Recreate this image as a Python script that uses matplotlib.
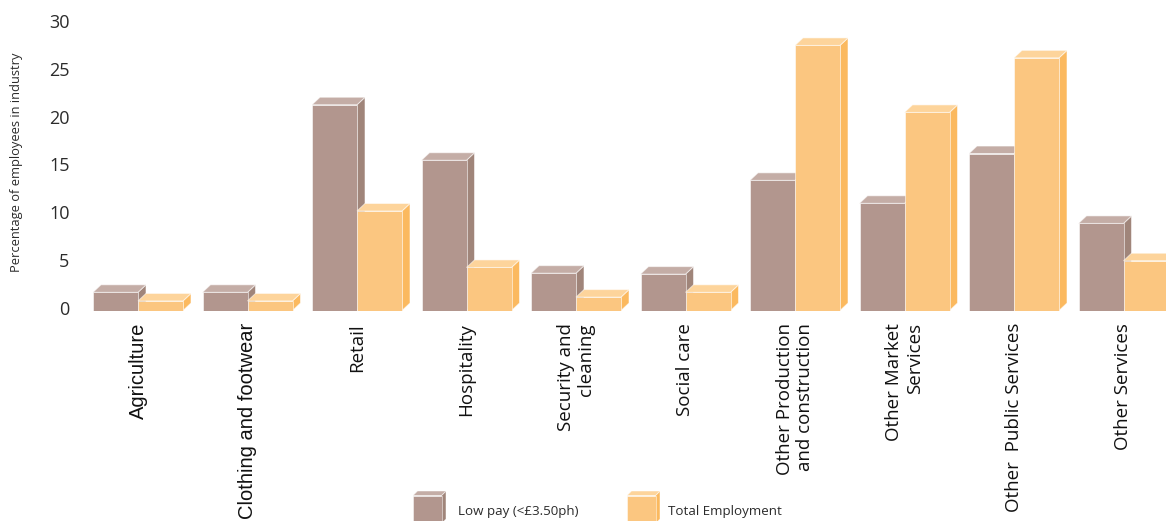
import matplotlib
matplotlib.use("Agg")
import matplotlib.pyplot as plt
from matplotlib.patches import Polygon
from matplotlib.transforms import ScaledTranslation

# ---- data -------------------------------------------------------------
industries = [
    "Agriculture",
    "Clothing and footwear",
    "Retail",
    "Hospitality",
    "Security and\ncleaning",
    "Social care",
    "Other Production\nand construction",
    "Other Market\nServices",
    "Other  Public Services",
    "Other Services",
]
low_pay = [1.9, 1.9, 21.5, 15.7, 3.9, 3.8, 13.6, 11.2, 16.4, 9.1]
total_employment = [1.0, 1.0, 10.4, 4.5, 1.4, 1.9, 27.7, 20.7, 26.4, 5.2]
series_names = ["Low pay (<£3.50ph)", "Total Employment"]
y_ticks = [0, 5, 10, 15, 20, 25, 30]

# ---- styling ----------------------------------------------------------
W, H, DPI = 1166, 521, 100
BROWN = {"front": "#B2968E", "top": "#C4ADA6", "side": "#A0857A"}
ORANGE = {"front": "#FBC680", "top": "#FDD49B", "side": "#FBB95F"}
EDGE = (1, 1, 1, 0.55)
TEXT = "#2b2b2b"
SANS = ["Open Sans", "DejaVu Sans"]
ARIAL = ["Liberation Sans", "DejaVu Sans"]

fig = plt.figure(figsize=(W / DPI, H / DPI), dpi=DPI)

# plot area in pixel terms
px_left, px_right = 75, 1166
px_base = 310.5
px_per_unit = 9.57
px_group = 109.5
first_center_px = 138
y_top = 31

ax_h = y_top * px_per_unit
ax = fig.add_axes([px_left / W, (H - px_base) / H,
                   (px_right - px_left) / W, ax_h / H])
ax.set_xlim(-(first_center_px - px_left) / px_group,
            (px_right - first_center_px) / px_group)
ax.set_ylim(0, y_top)

bar_w = 45 / px_group          # width of one bar in group units
dx = 8 / px_group              # depth offset (x)
dy = 7.5 / px_per_unit         # depth offset (y)


def bar3d(axis, x0, w, h, cols, ddx, ddy, z=2):
    front = [(x0, 0), (x0 + w, 0), (x0 + w, h), (x0, h)]
    top = [(x0, h), (x0 + w, h), (x0 + w + ddx, h + ddy), (x0 + ddx, h + ddy)]
    side = [(x0 + w, 0), (x0 + w + ddx, ddy), (x0 + w + ddx, h + ddy), (x0 + w, h)]
    for pts, key in ((side, "side"), (top, "top"), (front, "front")):
        axis.add_patch(Polygon(pts, closed=True, facecolor=cols[key],
                               edgecolor=EDGE, linewidth=0.7, zorder=z,
                               joinstyle="miter"))


for i, (lp, te) in enumerate(zip(low_pay, total_employment)):
    bar3d(ax, i - bar_w, bar_w, lp, BROWN, dx, dy)
    bar3d(ax, i, bar_w, te, ORANGE, dx, dy)

for s in ax.spines.values():
    s.set_visible(False)

ax.set_yticks(y_ticks)
ax.set_yticklabels([str(v) for v in y_ticks], fontsize=13, color=TEXT,
                   family=SANS)
ax.tick_params(axis="y", length=0, pad=4)
for lab in ax.get_yticklabels():
    lab.set_transform(lab.get_transform() + ScaledTranslation(0, 2.5 / DPI, fig.dpi_scale_trans))

ax.set_ylabel("Percentage of employees in industry", fontsize=9.3, color=TEXT,
              family=SANS)
ax.yaxis.set_label_coords((23 - px_left) / (px_right - px_left), 0.5)

ax.set_xticks(range(len(industries)))
ax.set_xticklabels(industries, rotation=90, ha="center", va="top",
                   multialignment="right", fontsize=13.5, color="#111111")
ax.tick_params(axis="x", length=0, pad=9)
for k, lab in enumerate(ax.get_xticklabels()):
    lab.set_family(ARIAL if k < 2 else SANS)
    if k < 2:
        lab.set_fontsize(14.5)

# ---- legend drawn in pixel space -------------------------------------
lg = fig.add_axes([0, 0, 1, 1], zorder=5)
lg.set_xlim(0, W)
lg.set_ylim(H, 0)
lg.axis("off")
lg.patch.set_alpha(0)


def box_px(x0, y_top_px, w, h, cols, d):
    front = [(x0, y_top_px + h), (x0 + w, y_top_px + h), (x0 + w, y_top_px), (x0, y_top_px)]
    top = [(x0, y_top_px), (x0 + w, y_top_px), (x0 + w + d, y_top_px - d), (x0 + d, y_top_px - d)]
    side = [(x0 + w, y_top_px + h), (x0 + w + d, y_top_px + h - d),
            (x0 + w + d, y_top_px - d), (x0 + w, y_top_px)]
    for pts, key in ((side, "side"), (top, "top"), (front, "front")):
        lg.add_patch(Polygon(pts, closed=True, facecolor=cols[key],
                             edgecolor=EDGE, linewidth=0.6))


for (bx, tx), cols, name in zip([(413, 458), (627, 668)], [BROWN, ORANGE], series_names):
    box_px(bx, 495.5, 28.5, 28, cols, 4.5)
    lg.text(tx, 512, name, fontsize=9.6, color=TEXT, family=SANS,
            va="center", ha="left")

fig.savefig("out.png", dpi=DPI, facecolor="white")
